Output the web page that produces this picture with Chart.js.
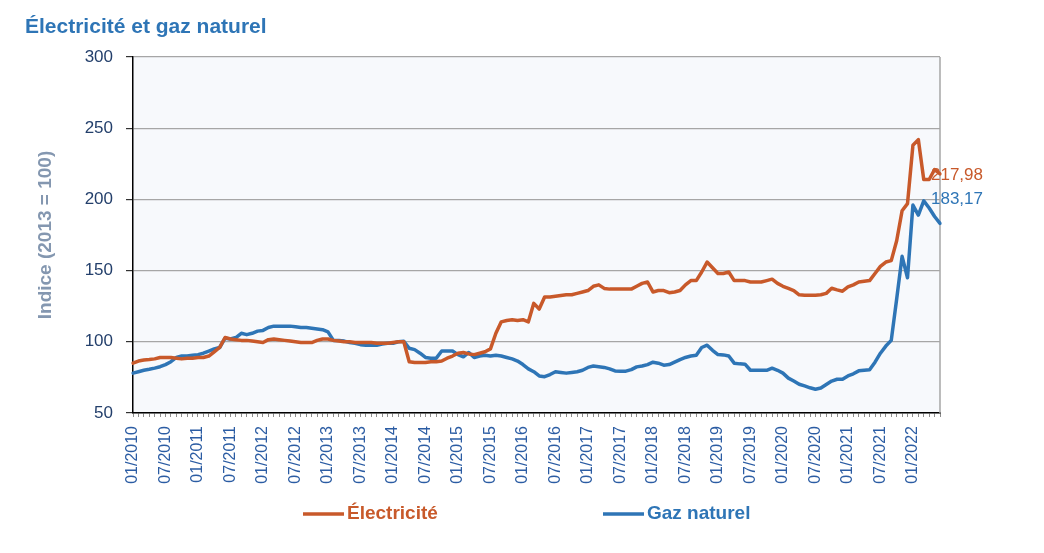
<!DOCTYPE html>
<html>
<head>
<meta charset="utf-8">
<script src="https://cdn.jsdelivr.net/npm/chart.js@4/dist/chart.umd.min.js"></script>
<style>
html,body{margin:0;padding:0;background:#fff;}
#wrap{width:1044px;height:553px;position:relative;}
</style>
</head>
<body>
<div id="wrap"><canvas id="c" width="1044" height="553"></canvas></div>
<script>
// ---- DATA ----
const chartTitle = "Électricité et gaz naturel";
const yAxisTitle = "Indice (2013 = 100)";
const seriesNames = ["Électricité", "Gaz naturel"];
const firstYear = 2010;
const monthCount = 150; // 01/2010 .. 06/2022
const yTicks = [50, 100, 150, 200, 250, 300];

const electricite = [
  85,86.5,87.2,87.5,88,89,89,89,88.5,88,88.5,88.5,
  89,89,90,93,96,103,102,101.5,101,101,100.5,100,
  99.5,101.5,102,101.5,101,100.5,100,99.5,99.5,99.5,101,102,
  102,101,100.5,100,100,99.5,99.5,99.5,99.5,99,99,99,
  99.5,100,100,86,85.5,85.5,85.5,86,86,86.5,88.5,90,
  92,92.5,91.5,91,92,93,95,106,114,115,115.5,115,
  115.5,114,127,123,131.5,131.5,132,132.5,133,133,134,135,
  136,139,140,137.5,137,137,137,137,137,139,141,142,
  135,136,136,134.5,135,136,140,143,143,149,156,152,
  148,148,149,143,143,143,142,142,142,143,144,141,
  139,137.5,136,133,132.7,132.7,132.7,133,134,137.6,136.5,135.5,
  138.5,140,142,142.5,143,148,153,156,157,171,192,197,
  238,242,214,214,221,217.98
];
const gazNaturel = [
  78,79,80,80.7,81.5,82.5,84,86,89,90,90,90.5,
  91,92,93.5,95,96,102.5,102,103,106,105,106,107.5,
  108,110,111,111,111,111,110.5,110,110,109.5,109,108.5,
  107,101,101,100.5,99.5,99,98,97.6,97.6,97.6,98.5,99,
  99,100,100.4,95.5,94.5,92,89,88.5,88.5,93.5,93.5,93.5,
  91,89.5,92.5,89,90,90.6,90,90.6,90,89,88,86.5,
  84,81,79,76,75.5,77,79,78.5,78,78.5,79,80,
  82,83,82.5,82,81,79.5,79.4,79.4,80.5,82.4,83,84,
  85.7,85,83.6,84,85.7,87.5,89,90,90.6,96,97.6,94,
  91,90.8,90,85,84.5,84.3,80,80,80,80,81.5,80,
  78,74.5,72.5,70.2,69,67.7,66.7,67.5,70,72.4,73.7,73.7,
  76,77.5,79.6,80,80.3,85.7,92,97,101,130,160,145,
  196,189,199,194,188,183.17
];
const lastLabels = ["217,98", "183,17"];

// category labels MM/YYYY
const categories = [];
for (let i = 0; i < monthCount; i++) {
  const y = firstYear + Math.floor(i / 12);
  const m = (i % 12) + 1;
  categories.push((m < 10 ? "0" : "") + m + "/" + y);
}

// ---- STYLE ----
const ORANGE = "#C8592A";
const BLUE = "#2E75B6";
const FONT = "'Liberation Sans', Arial, sans-serif";

const decorPlugin = {
  id: "decor",
  beforeDraw(chart) {
    const {ctx, chartArea: a} = chart;
    ctx.save();
    ctx.fillStyle = "#F7F9FC";
    ctx.fillRect(a.left, a.top, a.right - a.left, a.bottom - a.top);
    ctx.restore();
  },
  beforeDatasetsDraw(chart) {
    const {ctx, chartArea: a} = chart;
    ctx.save();
    ctx.strokeStyle = "#A6A6A6";
    ctx.lineWidth = 1.5;
    ctx.beginPath();
    ctx.moveTo(a.right, a.top);
    ctx.lineTo(a.right, a.bottom);
    ctx.stroke();
    ctx.restore();
  },
  afterDraw(chart) {
    const {ctx} = chart;
    ctx.save();
    // title
    ctx.fillStyle = "#2E75B6";
    ctx.font = "bold 21px " + FONT;
    ctx.textAlign = "left";
    ctx.textBaseline = "alphabetic";
    ctx.fillText(chartTitle, 25, 33);
    // legend
    const items = [
      {x: 303, color: ORANGE, text: seriesNames[0]},
      {x: 603, color: BLUE, text: seriesNames[1]}
    ];
    ctx.font = "bold 19px " + FONT;
    ctx.textBaseline = "middle";
    items.forEach(it => {
      ctx.strokeStyle = it.color;
      ctx.lineWidth = 3.5;
      ctx.beginPath();
      ctx.moveTo(it.x, 514);
      ctx.lineTo(it.x + 41, 514);
      ctx.stroke();
      ctx.fillStyle = it.color;
      ctx.fillText(it.text, it.x + 44, 514);
    });
    // end labels
    ctx.font = "17px " + FONT;
    const offs = [2, -24];
    chart.data.datasets.forEach((ds, di) => {
      const meta = chart.getDatasetMeta(di);
      const p = meta.data[meta.data.length - 1];
      ctx.fillStyle = ds.borderColor;
      ctx.textAlign = "left";
      ctx.textBaseline = "middle";
      ctx.fillText(lastLabels[di], p.x - 9, p.y + offs[di]);
    });
    ctx.restore();
  }
};

new Chart(document.getElementById("c"), {
  type: "line",
  data: {
    labels: categories,
    datasets: [
      {label: seriesNames[0], data: electricite, borderColor: ORANGE, backgroundColor: ORANGE,
       borderWidth: 3.5, pointRadius: 0, tension: 0, borderJoinStyle: "round", borderCapStyle: "round"},
      {label: seriesNames[1], data: gazNaturel, borderColor: BLUE, backgroundColor: BLUE,
       borderWidth: 3.5, pointRadius: 0, tension: 0, borderJoinStyle: "round", borderCapStyle: "round"}
    ]
  },
  options: {
    responsive: false,
    animation: false,
    devicePixelRatio: 1,
    layout: {padding: {top: 57, right: 104, bottom: 0, left: 0}},
    plugins: {legend: {display: false}, title: {display: false}, tooltip: {enabled: false}},
    scales: {
      x: {
        type: "category",
        offset: false,
        afterFit(s) { s.height = 140; },
        border: {color: "#000", width: 1.5},
        grid: {display: true, drawOnChartArea: false, drawTicks: true, tickLength: 4, color: "#8C8C8C"},
        ticks: {
          autoSkip: false, minRotation: 90, maxRotation: 90, padding: 9,
          color: "#2B5CA3", font: {family: FONT, size: 16},
          callback(v, i) { return i % 6 === 0 ? categories[i] : ""; }
        }
      },
      y: {
        min: 50, max: 300,
        afterFit(s) { s.width = 133; },
        afterBuildTicks(s) { s.ticks = yTicks.map(v => ({value: v})); },
        border: {color: "#000", width: 1.5},
        grid: {color: "#A6A6A6", lineWidth: 1.2, tickLength: 7, tickColor: "#333"},
        ticks: {padding: 13, color: "#233F6B", font: {family: FONT, size: 17}},
        title: {display: true, text: yAxisTitle, color: "#8497B0",
                font: {family: FONT, size: 19, weight: "bold"}, padding: {top: 34, bottom: 0}}
      }
    }
  },
  plugins: [decorPlugin]
});
</script>
</body>
</html>
